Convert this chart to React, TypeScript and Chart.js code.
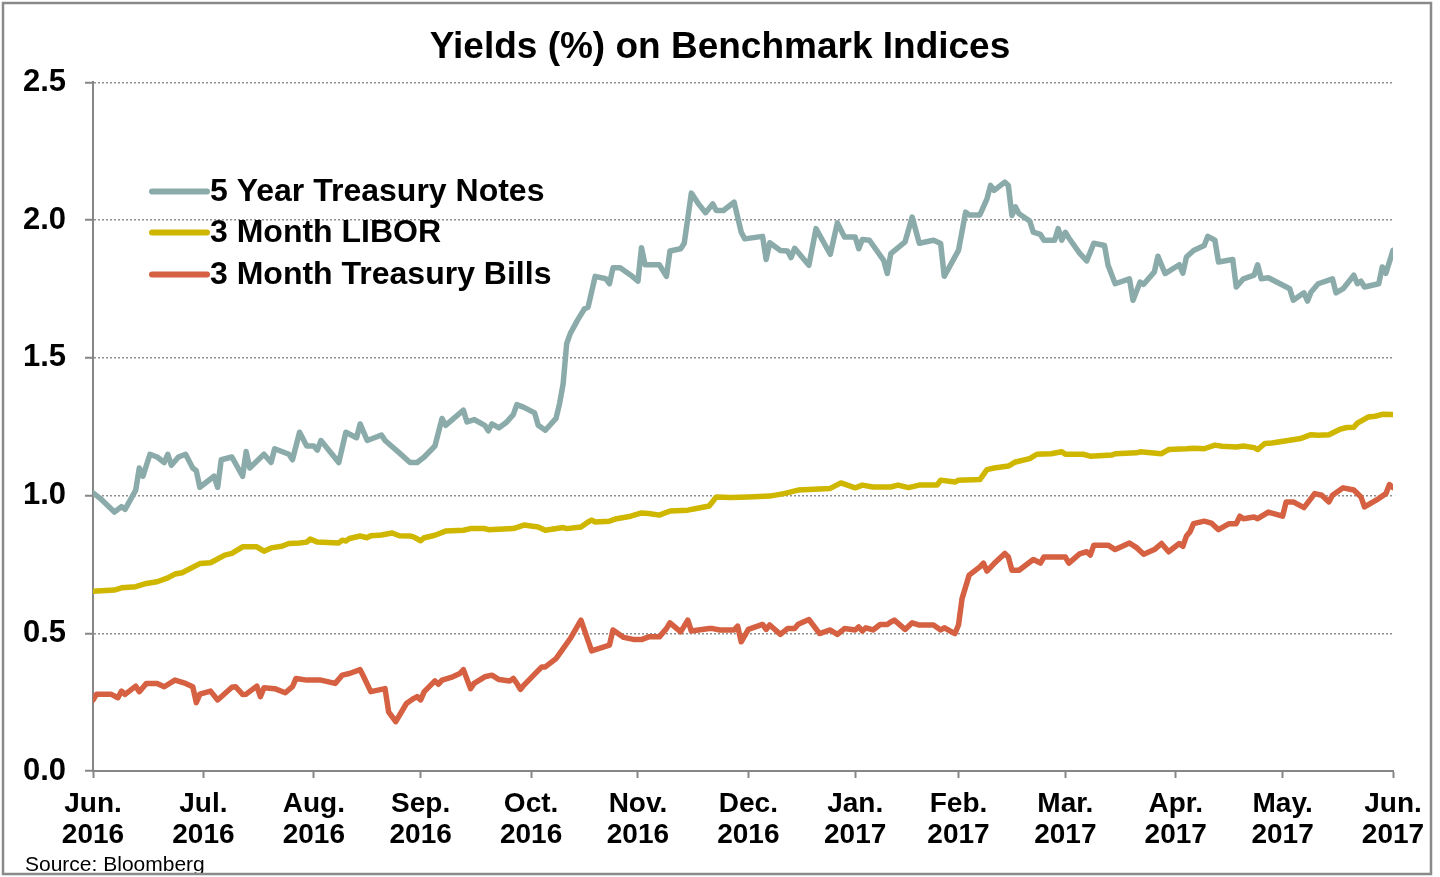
import { useEffect, useRef } from "react";
import { Chart, registerables } from "chart.js";

Chart.register(...registerables);

const FONT = '"Liberation Sans", Arial, Helvetica, sans-serif';

const chartTitle = "Yields (%) on Benchmark Indices";
const sourceNote = "Source: Bloomberg";

// x values are days counted from 1 June 2016
const tickDays = [0, 31, 62, 92, 123, 153, 184, 214, 243, 273, 304, 334, 365];
const tickMonths = ["Jun.", "Jul.", "Aug.", "Sep.", "Oct.", "Nov.", "Dec.", "Jan.", "Feb.", "Mar.", "Apr.", "May.", "Jun."];
const tickYears = ["2016", "2016", "2016", "2016", "2016", "2016", "2016", "2017", "2017", "2017", "2017", "2017", "2017"];

const seriesLabels = ["5 Year Treasury Notes", "3 Month LIBOR", "3 Month Treasury Bills"];
const seriesColors = ["#8AABAA", "#CFB700", "#D56142"];

const fiveYearDays = [
  0, 2, 6, 8, 9, 12, 13, 14, 16, 18,
  20, 21, 22, 24, 26, 28, 29, 30, 34, 35,
  36, 39, 42, 43, 44, 48, 50, 51, 55, 56,
  58, 60, 62, 63, 64, 69, 71, 74, 75, 77,
  81, 82, 86, 89, 91, 93, 96, 98, 99, 104,
  105, 107, 110, 111, 112, 114, 116, 118, 119, 121,
  124, 125, 127, 130, 131, 132, 133, 134, 136, 138,
  139, 141, 144, 145, 146, 148, 151, 153, 154, 155,
  159, 161, 162, 165, 166, 168, 170, 172, 174, 175,
  177, 180, 182, 183, 188, 189, 190, 193, 195, 196,
  197, 201, 203, 207, 209, 211, 214, 215, 216, 218,
  222, 223, 224, 228, 230, 232, 236, 238, 239, 243,
  245, 246, 249, 251, 252, 253, 256, 257, 258, 259,
  260, 263, 264, 266, 267, 270, 271, 272, 273, 274,
  277, 279, 281, 284, 285, 287, 291, 292, 294, 295,
  298, 299, 301, 305, 306, 307, 309, 312, 313, 315,
  316, 320, 321, 323, 326, 327, 328, 330, 336, 337,
  340, 341, 342, 344, 348, 349, 351, 354, 355, 356,
  357, 361, 362, 363, 365,
];
const fiveYearValues = [
  1.01, 0.99, 0.94, 0.96, 0.95, 1.02, 1.10, 1.07, 1.15, 1.14,
  1.12, 1.15, 1.11, 1.14, 1.15, 1.10, 1.09, 1.03, 1.07, 1.03,
  1.13, 1.14, 1.07, 1.16, 1.10, 1.15, 1.12, 1.17, 1.15, 1.13,
  1.23, 1.18, 1.18, 1.165, 1.20, 1.12, 1.23, 1.21, 1.26, 1.20,
  1.22, 1.20, 1.155, 1.12, 1.12, 1.14, 1.18, 1.28, 1.255, 1.31,
  1.267, 1.276, 1.255, 1.235, 1.26, 1.246, 1.265, 1.294, 1.33, 1.32,
  1.30, 1.255, 1.237, 1.28, 1.334, 1.406, 1.552, 1.588, 1.636, 1.678,
  1.684, 1.796, 1.787, 1.769, 1.827, 1.827, 1.80, 1.778, 1.90, 1.838,
  1.838, 1.796, 1.888, 1.896, 1.916, 2.098, 2.059, 2.027, 2.059, 2.035,
  2.035, 2.065, 1.956, 1.932, 1.941, 1.857, 1.918, 1.89, 1.888, 1.864,
  1.898, 1.836, 1.969, 1.876, 1.99, 1.939, 1.939, 1.896, 1.93, 1.927,
  1.854, 1.806, 1.878, 1.921, 2.011, 1.916, 1.927, 1.915, 1.796, 1.89,
  2.029, 2.019, 2.019, 2.077, 2.126, 2.108, 2.138, 2.126, 2.017, 2.048,
  2.023, 1.997, 1.956, 1.948, 1.927, 1.927, 1.969, 1.927, 1.956, 1.935,
  1.88, 1.852, 1.916, 1.908, 1.836, 1.769, 1.787, 1.709, 1.775, 1.767,
  1.812, 1.869, 1.806, 1.838, 1.807, 1.866, 1.89, 1.908, 1.941, 1.927,
  1.848, 1.857, 1.757, 1.787, 1.80, 1.838, 1.787, 1.791, 1.751, 1.709,
  1.736, 1.706, 1.739, 1.769, 1.787, 1.736, 1.751, 1.80, 1.769, 1.778,
  1.757, 1.769, 1.83, 1.807, 1.89,
];

const liborDays = [
  0, 6, 8, 12, 15, 18, 21, 23, 25, 30,
  33, 37, 39, 42, 46, 48, 50, 53, 55, 58,
  60, 61, 63, 69, 70, 71, 72, 75, 77, 78,
  81, 84, 86, 89, 90, 92, 93, 96, 99, 104,
  106, 110, 111, 118, 121, 125, 127, 132, 133, 137,
  139, 140, 141, 145, 147, 151, 154, 156, 159, 162,
  167, 169, 173, 175, 179, 184, 190, 194, 198, 207,
  210, 214, 216, 219, 224, 226, 229, 232, 237, 238,
  242, 243, 249, 251, 253, 257, 259, 263, 265, 269,
  272, 273, 278, 280, 286, 287, 293, 294, 300, 302,
  307, 309, 312, 315, 317, 321, 323, 326, 327, 329,
  331, 336, 339, 342, 344, 347, 350, 352, 354, 355,
  358, 360, 362, 365,
];
const liborValues = [
  0.653, 0.657, 0.665, 0.669, 0.681, 0.687, 0.701, 0.715, 0.72, 0.753,
  0.756, 0.784, 0.79, 0.814, 0.814, 0.798, 0.81, 0.816, 0.826, 0.828,
  0.831, 0.842, 0.831, 0.828, 0.838, 0.835, 0.844, 0.853, 0.847, 0.854,
  0.857, 0.864, 0.854, 0.853, 0.85, 0.836, 0.847, 0.856, 0.871, 0.874,
  0.88, 0.88, 0.876, 0.88, 0.893, 0.886, 0.874, 0.884, 0.88, 0.886,
  0.904, 0.911, 0.904, 0.907, 0.916, 0.925, 0.937, 0.935, 0.929, 0.944,
  0.947, 0.952, 0.962, 0.995, 0.993, 0.995, 0.998, 1.007, 1.02, 1.026,
  1.046, 1.028, 1.038, 1.031, 1.031, 1.038, 1.029, 1.038, 1.038, 1.056,
  1.049, 1.056, 1.058, 1.094, 1.10, 1.107, 1.122, 1.134, 1.15, 1.152,
  1.159, 1.15, 1.15, 1.143, 1.147, 1.152, 1.155, 1.159, 1.152, 1.167,
  1.17, 1.172, 1.17, 1.183, 1.179, 1.176, 1.18, 1.174, 1.167, 1.189,
  1.191, 1.201, 1.207, 1.221, 1.219, 1.221, 1.24, 1.247, 1.248, 1.263,
  1.285, 1.288, 1.295, 1.294,
];

const billsDays = [
  0, 1, 5, 7, 8, 9, 12, 13, 15, 18,
  20, 23, 26, 28, 29, 30, 33, 35, 39, 40,
  42, 43, 46, 47, 48, 51, 54, 56, 57, 60,
  64, 68, 70, 72, 75, 76, 78, 82, 83, 85,
  88, 90, 91, 92, 93, 96, 97, 98, 101, 103,
  104, 106, 107, 110, 112, 114, 117, 118, 119, 120,
  121, 124, 126, 127, 130, 132, 134, 137, 140, 145,
  146, 149, 152, 154, 156, 159, 161, 162, 165, 167,
  168, 173, 174, 176, 180, 181, 182, 184, 188, 189,
  190, 193, 195, 197, 198, 201, 204, 207, 209, 211,
  214, 215, 216, 217, 219, 221, 223, 224, 225, 228,
  230, 232, 236, 238, 239, 242, 243, 244, 246, 249,
  250, 251, 253, 256, 257, 258, 260, 264, 266, 267,
  273, 274, 277, 279, 280, 281, 285, 287, 291, 293,
  295, 298, 300, 302, 305, 306, 307, 308, 309, 312,
  314, 316, 319, 321, 322, 323, 326, 327, 330, 334,
  335, 337, 340, 343, 345, 347, 348, 351, 354, 356,
  357, 361, 363, 364, 365,
];
const billsValues = [
  0.258, 0.279, 0.279, 0.266, 0.29, 0.278, 0.308, 0.288, 0.318, 0.318,
  0.306, 0.33, 0.318, 0.306, 0.248, 0.279, 0.29, 0.258, 0.304, 0.306,
  0.278, 0.279, 0.308, 0.27, 0.302, 0.299, 0.284, 0.306, 0.336, 0.33,
  0.33, 0.318, 0.348, 0.354, 0.368, 0.342, 0.288, 0.299, 0.215, 0.179,
  0.245, 0.263, 0.27, 0.258, 0.288, 0.327, 0.315, 0.33, 0.342, 0.354,
  0.368, 0.299, 0.318, 0.342, 0.348, 0.332, 0.327, 0.336, 0.318, 0.296,
  0.312, 0.352, 0.378, 0.378, 0.408, 0.444, 0.481, 0.548, 0.436, 0.457,
  0.512, 0.485, 0.477, 0.477, 0.487, 0.487, 0.517, 0.538, 0.505, 0.548,
  0.508, 0.517, 0.517, 0.512, 0.512, 0.526, 0.469, 0.514, 0.532, 0.514,
  0.53, 0.496, 0.517, 0.517, 0.533, 0.55, 0.499, 0.512, 0.496, 0.517,
  0.512, 0.523, 0.508, 0.52, 0.512, 0.532, 0.532, 0.541, 0.548, 0.514,
  0.538, 0.53, 0.53, 0.512, 0.52, 0.499, 0.53, 0.626, 0.711, 0.741,
  0.755, 0.726, 0.753, 0.79, 0.777, 0.729, 0.729, 0.768, 0.755, 0.777,
  0.777, 0.755, 0.788, 0.796, 0.784, 0.82, 0.82, 0.804, 0.828, 0.811,
  0.787, 0.804, 0.826, 0.796, 0.826, 0.816, 0.853, 0.868, 0.898, 0.907,
  0.90, 0.876, 0.898, 0.898, 0.925, 0.916, 0.922, 0.916, 0.94, 0.925,
  0.977, 0.977, 0.956, 1.007, 1.001, 0.977, 1.001, 1.028, 1.02, 0.995,
  0.959, 0.989, 1.007, 1.04, 1.029,
];

const toPoints = (days: number[], values: number[]) =>
  days.map((d, i) => ({ x: d, y: values[i] }));

export default function App() {
  const canvasRef = useRef<HTMLCanvasElement | null>(null);

  useEffect(() => {
    const canvas = canvasRef.current;
    if (!canvas) return;

    const overlay = {
      id: "overlay",
      afterDraw(chart: any) {
        const { ctx, chartArea } = chart;
        ctx.save();
        // legend inside the plot
        const rowOffsets = [109, 150, 192];
        chart.data.datasets.forEach((ds: any, i: number) => {
          const y = chartArea.top + rowOffsets[i];
          const x0 = chartArea.left + 59;
          ctx.strokeStyle = ds.borderColor;
          ctx.lineWidth = 6;
          ctx.lineCap = "round";
          ctx.beginPath();
          ctx.moveTo(x0, y);
          ctx.lineTo(x0 + 55, y);
          ctx.stroke();
          ctx.fillStyle = "#000";
          ctx.font = `bold 32px ${FONT}`;
          ctx.textAlign = "left";
          ctx.textBaseline = "middle";
          ctx.fillText(ds.label, x0 + 58, y + 1);
        });
        // source note
        ctx.fillStyle = "#000";
        ctx.font = `21px ${FONT}`;
        ctx.textAlign = "left";
        ctx.textBaseline = "alphabetic";
        ctx.fillText(sourceNote, 25, 871);
        // outer frame
        ctx.strokeStyle = "#8a8a8a";
        ctx.lineWidth = 2.5;
        ctx.strokeRect(3, 3, 1428, 871);
        ctx.restore();
      },
    };

    const chart = new Chart(canvas, {
      type: "line",
      data: {
        datasets: [
          { label: seriesLabels[0], data: toPoints(fiveYearDays, fiveYearValues), borderColor: seriesColors[0] },
          { label: seriesLabels[1], data: toPoints(liborDays, liborValues), borderColor: seriesColors[1] },
          { label: seriesLabels[2], data: toPoints(billsDays, billsValues), borderColor: seriesColors[2] },
        ].map((d) => ({
          ...d,
          borderWidth: 5.5,
          pointRadius: 0,
          tension: 0,
          fill: false,
          borderJoinStyle: "round" as const,
          borderCapStyle: "round" as const,
        })),
      },
      options: {
        responsive: false,
        animation: false,
        layout: { padding: 0 },
        plugins: {
          legend: { display: false },
          tooltip: { enabled: false },
          title: {
            display: true,
            text: chartTitle,
            color: "#000",
            font: { family: FONT, size: 37, weight: "bold" },
            padding: { top: 26, bottom: 12 },
          },
        },
        scales: {
          x: {
            type: "linear",
            min: 0,
            max: 365,
            afterBuildTicks: (scale: any) => {
              scale.ticks = tickDays.map((v) => ({ value: v }));
            },
            afterFit: (scale: any) => {
              scale.height = 106;
              scale.paddingRight = 47;
            },
            ticks: {
              autoSkip: false,
              maxRotation: 0,
              minRotation: 0,
              padding: 11,
              color: "#000",
              font: { family: FONT, size: 28, weight: "bold", lineHeight: 31 / 28 },
              callback: (_v: any, i: number) => [tickMonths[i], tickYears[i]],
            },
            grid: {
              drawOnChartArea: false,
              drawTicks: true,
              tickLength: 7,
              tickWidth: 2,
              tickColor: "#868686",
            },
            border: { display: true, color: "#868686", width: 2 },
          },
          y: {
            min: 0,
            max: 2.5,
            afterFit: (scale: any) => {
              scale.width = 93;
            },
            ticks: {
              stepSize: 0.5,
              padding: 19,
              color: "#000",
              font: { family: FONT, size: 31, weight: "bold" },
              callback: (v: any) => Number(v).toFixed(1),
            },
            grid: {
              color: "#8f8f8f",
              lineWidth: 1.5,
              drawTicks: true,
              tickLength: 8,
              tickWidth: 2,
              tickColor: "#868686",
            },
            border: { display: true, color: "#868686", width: 2, dash: [2, 2] },
          },
        },
      },
      plugins: [overlay],
    } as any);

    return () => chart.destroy();
  }, []);

  return (
    <div style={{ position: "absolute", left: 0, top: 0, width: 1440, height: 877, background: "#fff" }}>
      <canvas ref={canvasRef} width={1440} height={877} style={{ display: "block", width: 1440, height: 877 }} />
    </div>
  );
}
